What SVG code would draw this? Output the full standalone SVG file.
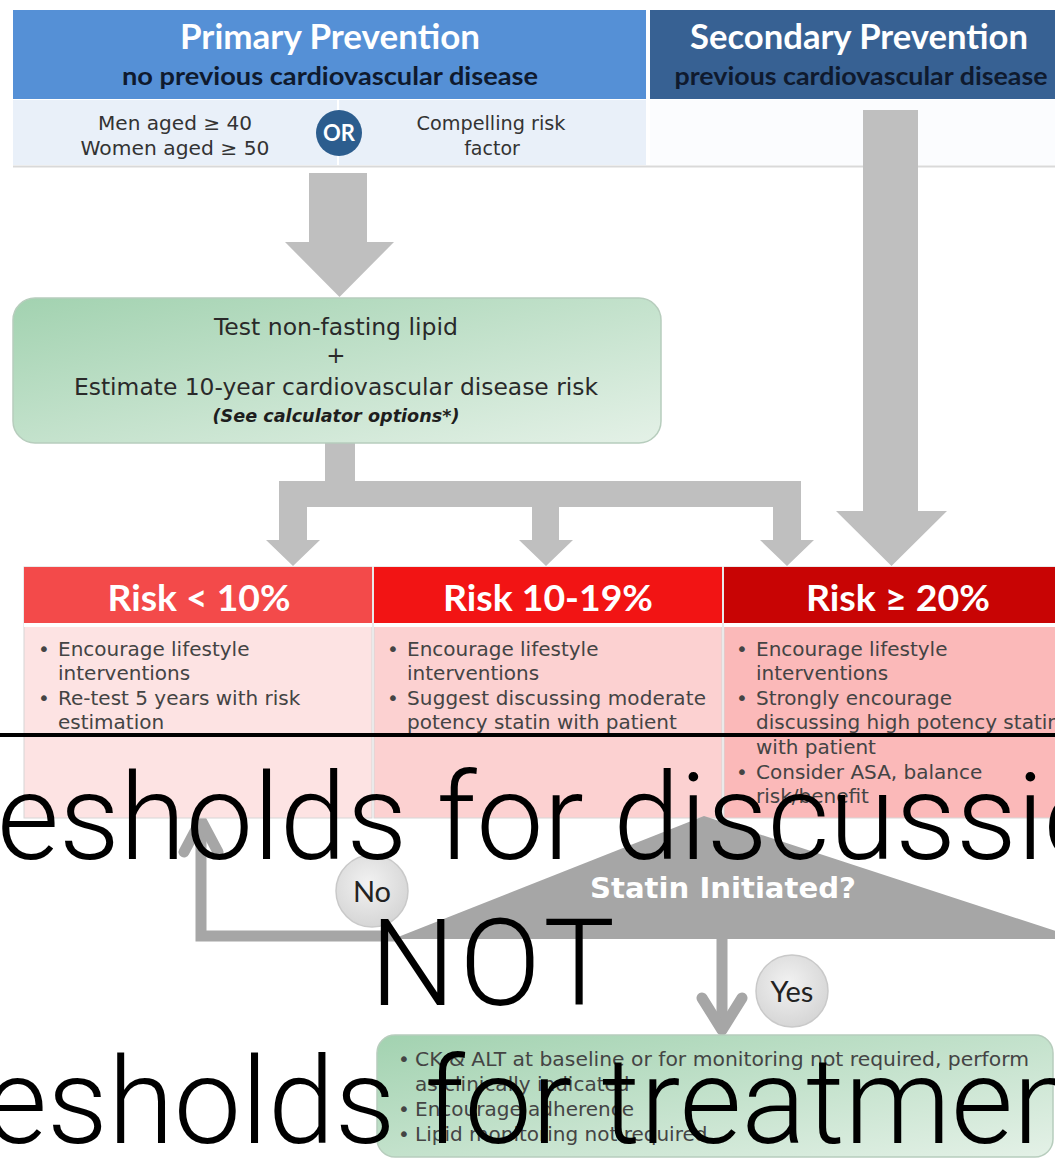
<svg xmlns="http://www.w3.org/2000/svg" width="1055" height="1159" viewBox="0 0 1055 1159">
<style>
.hdr{font-family:Lato,"Open Sans",sans-serif;font-weight:700;fill:#ffffff;text-anchor:middle}
.sub{font-family:Lato,"Open Sans",sans-serif;font-weight:700;fill:#0f1a2e;text-anchor:middle}
.crit{font-family:"DejaVu Sans",sans-serif;font-size:19px;fill:#333333;text-anchor:middle}
.body{font-family:"DejaVu Sans",sans-serif;font-size:20px;fill:#444444}
.gtxt{font-family:"DejaVu Sans",sans-serif;font-size:23px;fill:#2a2a2a;text-anchor:middle}
.risk{font-family:Lato,"Open Sans",sans-serif;font-weight:700;font-size:36px;fill:#ffffff;text-anchor:middle}
.lbl{font-family:Lato,"Open Sans",sans-serif;font-size:29px;fill:#222222;text-anchor:middle}
.big{font-family:Roboto,"Liberation Sans",sans-serif;font-weight:300;font-size:120px;fill:#000000}
.arrow{fill:#bfbfbf}
.conn{fill:none;stroke:#a6a6a6;stroke-width:11}
.chev{fill:none;stroke:#a6a6a6;stroke-width:11;stroke-linecap:round;stroke-linejoin:round}
</style>
<defs>
<linearGradient id="green" x1="0" y1="0" x2="1" y2="1">
<stop offset="0" stop-color="#a2d2b0"/>
<stop offset="1" stop-color="#e4f1e7"/>
</linearGradient>
<radialGradient id="bubble" cx="0.45" cy="0.4" r="0.6">
<stop offset="0" stop-color="#f2f2f2"/>
<stop offset="1" stop-color="#d6d6d6"/>
</radialGradient>
</defs>
<rect x="0" y="0" width="1055" height="1159" fill="#ffffff"/>

<g id="header-primary">
<rect x="13" y="10" width="633" height="89" fill="#5590d6"/>
<text class="hdr" x="330" y="49" font-size="34" textLength="300" lengthAdjust="spacingAndGlyphs">Primary Prevention</text>
<text class="sub" x="330" y="85" font-size="25" textLength="416" lengthAdjust="spacingAndGlyphs">no previous cardiovascular disease</text>
</g>
<g id="header-secondary">
<rect x="650" y="10" width="405" height="89" fill="#376193"/>
<text class="hdr" x="859" y="49" font-size="34" textLength="338" lengthAdjust="spacingAndGlyphs">Secondary Prevention</text>
<text class="sub" x="861" y="85" font-size="25" textLength="373" lengthAdjust="spacingAndGlyphs">previous cardiovascular disease</text>
</g>
<g id="criteria-row">
<rect x="13" y="100" width="633" height="65" fill="#e9f0f9"/>
<rect x="650" y="100" width="405" height="65" fill="#fbfcfe"/>
<line x1="338" y1="100" x2="338" y2="165" stroke="#ffffff" stroke-width="2"/>
<line x1="13" y1="166.5" x2="1055" y2="166.5" stroke="#d9d9d9" stroke-width="2"/>
<text class="crit" x="175" y="130" textLength="154" lengthAdjust="spacingAndGlyphs">Men aged ≥ 40</text>
<text class="crit" x="175" y="155" textLength="189" lengthAdjust="spacingAndGlyphs">Women aged ≥ 50</text>
<text class="crit" x="491" y="130" textLength="149" lengthAdjust="spacingAndGlyphs">Compelling risk</text>
<text class="crit" x="492" y="155">factor</text>
</g>
<g id="or-badge">
<circle cx="339" cy="133" r="23" fill="#2c5d8e"/>
<text x="339" y="141" font-family="Lato,sans-serif" font-weight="700" font-size="22" fill="#ffffff" text-anchor="middle">OR</text>
</g>

<g id="connectors">
<path class="arrow" d="M309,173 H367 V242 H394 L339.5,297 L285,242 H309 Z"/>
<path class="arrow" d="M863,110 H918 V511 H947 L891.5,566 L836,511 H863 Z"/>
<path class="arrow" d="M325,443 H355 V481 H801 V540 H814 L787,566 L760,540 H773 V507 H559 V540 H573 L546,566 L519,540 H532 V507 H307 V540 H320 L293,566 L266,540 H279 V481 H325 Z"/>
<path class="conn" d="M396,936 H201 V824"/>
<polyline class="chev" points="184,852 201,820 218,852"/>
<path class="conn" d="M722,938 V1026"/>
<polyline class="chev" points="702,998 722,1030 742,998"/>
</g>

<g id="test-box">
<rect x="13" y="298" width="648" height="145" rx="22" ry="22" fill="url(#green)" stroke="#b7cdbd" stroke-width="1.5"/>
<text class="gtxt" x="336" y="335" textLength="244" lengthAdjust="spacingAndGlyphs">Test non-fasting lipid</text>
<text class="gtxt" x="336" y="363">+</text>
<text class="gtxt" x="336" y="395" textLength="524" lengthAdjust="spacingAndGlyphs">Estimate 10-year cardiovascular disease risk</text>
<text x="336" y="422" font-family="'DejaVu Sans',sans-serif" font-size="18" font-weight="700" font-style="italic" fill="#1e1e1e" text-anchor="middle" textLength="247" lengthAdjust="spacingAndGlyphs">(See calculator options*)</text>
</g>

<g id="risk-low">
<rect x="24" y="567" width="348" height="251" fill="#fde3e3" stroke="#d6d6d6" stroke-width="1"/>
<rect x="24" y="567" width="348" height="56" fill="#f34a4a"/>
<rect x="24" y="623" width="348" height="4" fill="#ffffff"/>
<text class="risk" x="199" y="611" textLength="183" lengthAdjust="spacingAndGlyphs">Risk &lt; 10%</text>
<text class="body" x="38" y="656">•</text>
<text class="body" x="58" y="656">Encourage lifestyle</text>
<text class="body" x="58" y="680">interventions</text>
<text class="body" x="38" y="705">•</text>
<text class="body" x="58" y="705">Re-test 5 years with risk</text>
<text class="body" x="58" y="729">estimation</text>
</g>
<g id="risk-mid">
<rect x="374" y="567" width="348" height="251" fill="#fcd1d1" stroke="#d6d6d6" stroke-width="1"/>
<rect x="374" y="567" width="348" height="56" fill="#f21414"/>
<rect x="374" y="623" width="348" height="4" fill="#ffffff"/>
<text class="risk" x="548" y="611" textLength="210" lengthAdjust="spacingAndGlyphs">Risk 10-19%</text>
<text class="body" x="387" y="656">•</text>
<text class="body" x="407" y="656">Encourage lifestyle</text>
<text class="body" x="407" y="680">interventions</text>
<text class="body" x="387" y="705">•</text>
<text class="body" x="407" y="705" textLength="299">Suggest discussing moderate</text>
<text class="body" x="407" y="729">potency statin with patient</text>
</g>
<g id="risk-high">
<rect x="724" y="567" width="340" height="251" fill="#fbb9b9" stroke="#d6d6d6" stroke-width="1"/>
<rect x="724" y="567" width="340" height="56" fill="#c80404"/>
<rect x="724" y="623" width="340" height="4" fill="#ffffff"/>
<text class="risk" x="898" y="611" textLength="184" lengthAdjust="spacingAndGlyphs">Risk ≥ 20%</text>
<text class="body" x="736" y="656">•</text>
<text class="body" x="756" y="656">Encourage lifestyle</text>
<text class="body" x="756" y="680">interventions</text>
<text class="body" x="736" y="705">•</text>
<text class="body" x="756" y="705">Strongly encourage</text>
<text class="body" x="756" y="729">discussing high potency statin</text>
<text class="body" x="756" y="754">with patient</text>
<text class="body" x="736" y="779">•</text>
<text class="body" x="756" y="779">Consider ASA, balance</text>
<text class="body" x="756" y="803">risk/benefit</text>
</g>

<g id="decision">
<polygon points="393,939 704,816 1080,939" fill="#a6a6a6"/>
<text x="723" y="898" font-family="'DejaVu Sans',sans-serif" font-weight="700" font-size="29" fill="#ffffff" text-anchor="middle" textLength="266" lengthAdjust="spacingAndGlyphs">Statin Initiated?</text>
</g>
<g id="no-label">
<circle cx="372" cy="891" r="36" fill="url(#bubble)" stroke="#c9c9c9" stroke-width="1.5"/>
<text class="lbl" x="372" y="902">No</text>
</g>
<g id="yes-label">
<circle cx="792" cy="991" r="36" fill="url(#bubble)" stroke="#c9c9c9" stroke-width="1.5"/>
<text class="lbl" x="792" y="1002">Yes</text>
</g>

<g id="monitoring-box">
<rect x="377" y="1035" width="676" height="122" rx="18" ry="18" fill="url(#green)" stroke="#b7cdbd" stroke-width="1.5"/>
<text class="body" x="398" y="1066" font-size="19">•</text>
<text class="body" x="415" y="1066" font-size="19" textLength="614" lengthAdjust="spacingAndGlyphs">CK &amp; ALT at baseline or for monitoring not required, perform</text>
<text class="body" x="415" y="1091" font-size="19">as clinically indicated</text>
<text class="body" x="398" y="1116" font-size="19">•</text>
<text class="body" x="415" y="1116" font-size="19">Encourage adherence</text>
<text class="body" x="398" y="1141" font-size="19">•</text>
<text class="body" x="415" y="1141" font-size="19">Lipid monitoring not required</text>
</g>

<g id="overlay">
<rect x="0" y="733" width="1055" height="4" fill="#000000"/>
<text class="big" x="-3" y="859" textLength="1114">esholds for discussio</text>
<text class="big" x="370" y="1005" textLength="245">NOT</text>
<text class="big" x="-15" y="1143" textLength="1094">esholds for treatmen</text>
</g>
</svg>
